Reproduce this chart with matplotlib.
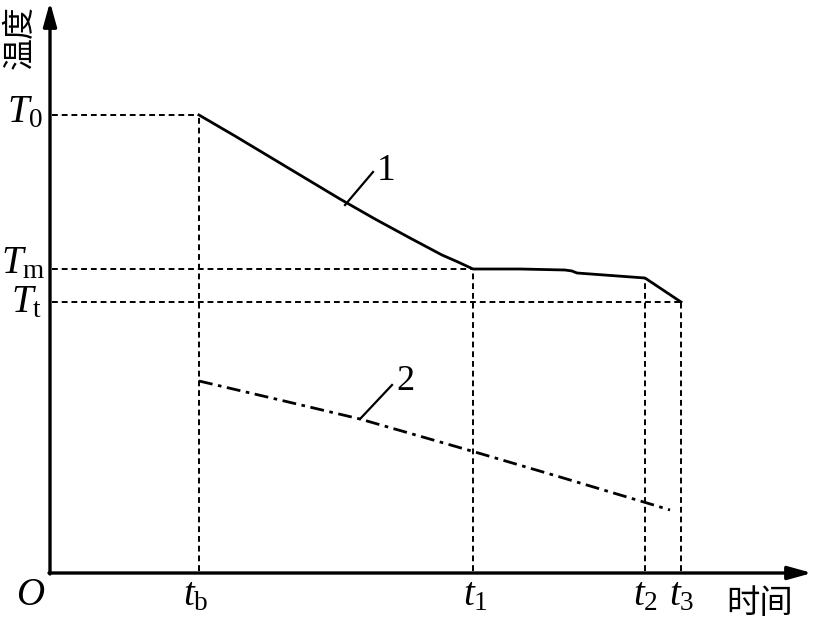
import matplotlib.pyplot as plt

plt.rcParams['mathtext.fontset'] = 'custom'
plt.rcParams['mathtext.rm'] = 'Liberation Serif'
plt.rcParams['mathtext.it'] = 'Liberation Serif:italic'
plt.rcParams['font.family'] = ['Liberation Serif', 'Noto Sans CJK SC', 'DejaVu Sans']

# characteristic times and temperatures (arbitrary units)
tb, t1, t2, t3 = 149, 423, 595, 631
T0, Tm, Tt = 458, 304, 271

# curve 1: surface temperature
c1_t = [149, 185, 220, 255, 290, 325, 360, 392, 408, 423, 470, 515, 522, 527, 595, 631]
c1_T = [458, 437, 416, 395, 374, 354, 335, 318, 311, 304, 304, 303, 302, 300, 295, 271]

# curve 2: core temperature
c2_t = [149, 230, 310, 425, 510, 597, 620]
c2_T = [192, 173, 154, 121, 96, 70, 63]

fig = plt.figure(figsize=(8.13, 6.21), dpi=100)
ax = fig.add_axes([0, 0, 1, 1])
ax.set_xlim(-50, 763)
ax.set_ylim(-48, 573)
ax.axis('off')

# axes with arrows
arrow = dict(arrowstyle='-|>,head_length=0.72,head_width=0.2', lw=2.4, color='black',
             mutation_scale=20, shrinkA=0, shrinkB=0)
ax.annotate('', xy=(762, 0), xytext=(-1, 0), arrowprops=arrow)
ax.annotate('', xy=(0, 571), xytext=(0, -1), arrowprops=arrow)

# guide lines
dash = dict(color='black', lw=1.4, linestyle=(0, (3, 2)))
for t, T in [(tb, T0), (t1, Tm), (t3, Tt)]:
    ax.plot([2, t], [T, T], **dash)
for t, T in [(tb, T0), (t1, Tm), (t2, c1_T[c1_t.index(t2)]), (t3, Tt)]:
    ax.plot([t, t], [2, T], **dash)

ax.plot(c1_t, c1_T, color='black', lw=2.0, solid_joinstyle='round')
ax.plot(c2_t, c2_T, color='black', lw=2.0, linestyle=(0, (5, 2, 1.3, 2)))

# curve labels
ax.plot([295, 323], [368, 401], color='black', lw=1.6)
ax.text(336, 402, '1', fontsize=27, ha='center', va='center')
ax.plot([310, 342], [154, 188], color='black', lw=1.6)
ax.text(355, 191, '2', fontsize=26, ha='center', va='center')

# tick-like labels
fs = 28
ax.text(-7, 451, '$T_0$', fontsize=fs, ha='right', va='baseline')
ax.text(-5, 300, r'$T_\mathrm{m}$', fontsize=fs, ha='right', va='baseline')
ax.text(-8, 261, r'$T_\mathrm{t}$', fontsize=fs, ha='right', va='baseline')
ax.text(-19, -32, '$O$', fontsize=fs, ha='center', va='baseline')
ax.text(tb - 3, -32, r'$t_\mathrm{b}$', fontsize=fs, ha='center', va='baseline')
ax.text(t1 + 2, -32, r'$t_1$', fontsize=fs, ha='center', va='baseline')
ax.text(t2, -32, r'$t_2$', fontsize=fs, ha='center', va='baseline')
ax.text(t3 + 1, -32, r'$t_3$', fontsize=fs, ha='center', va='baseline')

ax.text(710, -30, '时间', fontsize=24, ha='center', va='center',
        family=['Noto Sans CJK SC', 'DejaVu Sans'])
ax.text(-30, 536, '温度', fontsize=23, ha='center', va='center', rotation=90,
        family=['Noto Sans CJK SC', 'DejaVu Sans'])

fig.savefig('out.png', dpi=100)
